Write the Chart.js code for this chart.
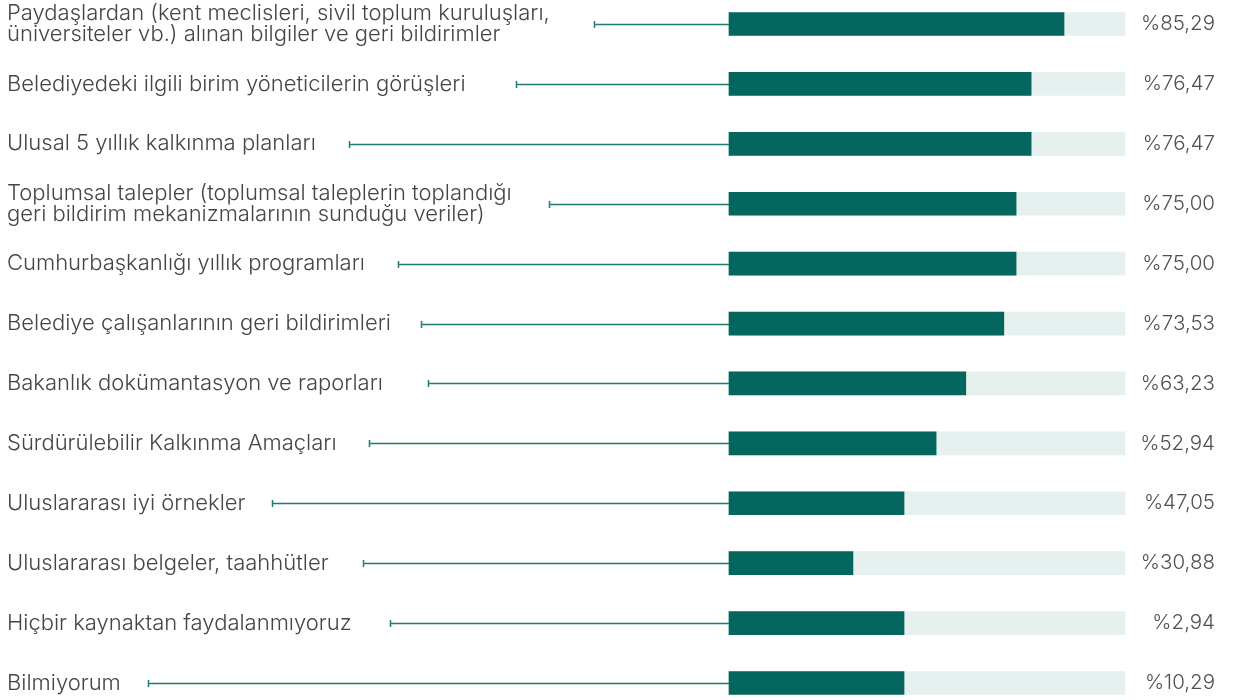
<!DOCTYPE html>
<html>
<head>
<meta charset="utf-8">
<script src="https://cdn.jsdelivr.net/npm/chart.js@4.4.1/dist/chart.umd.min.js"></script>
<style>
  html, body { margin: 0; padding: 0; background: #ffffff; }
  #wrap { width: 1239px; height: 700px; position: relative; }
</style>
</head>
<body>
<div id="wrap"><canvas id="c"></canvas></div>
<script>
const categories = [
  ["Paydaşlardan (kent meclisleri, sivil toplum kuruluşları,", "üniversiteler vb.) alınan bilgiler ve geri bildirimler"],
  "Belediyedeki ilgili birim yöneticilerin görüşleri",
  "Ulusal 5 yıllık kalkınma planları",
  ["Toplumsal talepler (toplumsal taleplerin toplandığı", "geri bildirim mekanizmalarının sunduğu veriler)"],
  "Cumhurbaşkanlığı yıllık programları",
  "Belediye çalışanlarının geri bildirimleri",
  "Bakanlık dokümantasyon ve raporları",
  "Sürdürülebilir Kalkınma Amaçları",
  "Uluslararası iyi örnekler",
  "Uluslararası belgeler, taahhütler",
  "Hiçbir kaynaktan faydalanmıyoruz",
  "Bilmiyorum"
];
// bar lengths as drawn in the reference (percent of the track)
const barValues = [84.6, 76.3, 76.3, 72.5, 72.5, 69.4, 59.8, 52.3, 44.2, 31.3, 44.2, 44.2];
const trackValues = [100, 100, 100, 100, 100, 100, 100, 100, 100, 100, 100, 100];
const percentLabels = ["%85,29", "%76,47", "%76,47", "%75,00", "%75,00", "%73,53", "%63,23", "%52,94", "%47,05", "%30,88", "%2,94", "%10,29"];

const FONT_FAMILY = "Inter, 'Open Sans', sans-serif";
const LABEL_FONT = { family: FONT_FAMILY, size: 22, weight: '300', lineHeight: 0.98 };
const TEAL = '#04665e';
const TRACK = '#e6f0ee';
const LINE = '#1f7c72';

const leaderLines = {
  id: 'leaderLines',
  afterDatasetsDraw(chart, args, opts) {
    const ctx = chart.ctx;
    const y = chart.scales.y;
    const area = chart.chartArea;
    const gaps = opts.gaps || [];
    ctx.save();
    ctx.font = `${LABEL_FONT.weight} ${LABEL_FONT.size}px ${LABEL_FONT.family}`;
    ctx.strokeStyle = LINE;
    ctx.lineWidth = 1.5;
    categories.forEach((lab, i) => {
      const lines = Array.isArray(lab) ? lab : [lab];
      const w = Math.max(...lines.map(s => ctx.measureText(s).width));
      const x0 = Math.round(y.left + w + (gaps[i] !== undefined ? gaps[i] : 30)) + 0.5;
      const py = Math.round(y.getPixelForValue(i)) + 0.5;
      ctx.beginPath();
      ctx.moveTo(x0, py);
      ctx.lineTo(area.left, py);
      ctx.stroke();
      ctx.beginPath();
      ctx.moveTo(x0, py - 3.5);
      ctx.lineTo(x0, py + 3.5);
      ctx.stroke();
    });
    ctx.restore();
  }
};

function fixAxis(width) {
  return function (scale) {
    scale.width = width;
    scale.paddingTop = 0;
    scale.paddingBottom = 0;
  };
}

new Chart(document.getElementById('c'), {
  type: 'bar',
  data: {
    labels: categories,
    datasets: [
      {
        data: barValues,
        backgroundColor: TEAL,
        barThickness: 23,
        grouped: false,
        order: 1,
        clip: false
      },
      {
        data: trackValues,
        backgroundColor: TRACK,
        barThickness: 23,
        grouped: false,
        order: 2,
        clip: false
      }
    ]
  },
  options: {
    indexAxis: 'y',
    responsive: true,
    maintainAspectRatio: false,
    animation: false,
    events: [],
    layout: { padding: { left: 7, right: 24, top: 24, bottom: 17 } },
    plugins: {
      legend: { display: false },
      tooltip: { enabled: false },
      leaderLines: { gaps: [44, 50, 33, 37, 33, 30, 45, 32, 27, 34, 38, 27] }
    },
    scales: {
      x: { display: false, min: 0, max: 100 },
      y: {
        type: 'category',
        position: 'left',
        offset: false,
        grid: { display: false },
        border: { display: false },
        ticks: { crossAlign: 'far', color: '#454545', font: LABEL_FONT, padding: 0, autoSkip: false },
        afterFit: fixAxis(722)
      },
      y2: {
        type: 'category',
        position: 'right',
        labels: percentLabels,
        offset: false,
        grid: { display: false },
        border: { display: false },
        ticks: { crossAlign: 'far', color: '#505050', font: { family: FONT_FAMILY, size: 20.5, weight: '300' }, padding: 0, autoSkip: false },
        afterFit: fixAxis(90)
      }
    }
  },
  plugins: [leaderLines]
});
</script>
</body>
</html>
